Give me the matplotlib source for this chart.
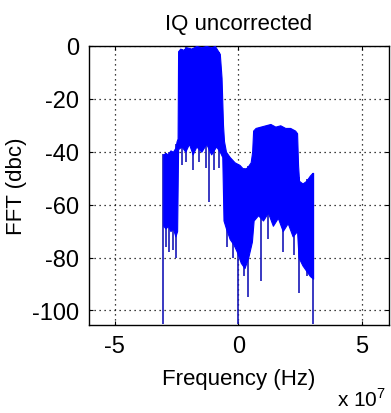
import numpy as np
import matplotlib
matplotlib.use('Agg')
import matplotlib.pyplot as plt

plt.rcParams['font.family'] = ['Liberation Sans', 'DejaVu Sans']
plt.rcParams['mathtext.fontset'] = 'custom'
plt.rcParams['mathtext.rm'] = 'Liberation Sans'

# spectrum envelope (freq in units of 1e7 Hz, level in dBc)
upper_freq = [-3.04, -2.95, -2.85, -2.75, -2.65, -2.55, -2.5, -2.46,
              -2.44, -2.35, -2.25, -2.1, -1.9, -1.7, -1.5, -1.3, -1.1, -0.95,
              -0.85, -0.75, -0.68, -0.62, -0.58, -0.5, -0.35, -0.15, 0.05, 0.2,
              0.35, 0.5, 0.56, 0.6, 0.7, 0.9, 1.1, 1.3, 1.5, 1.7, 1.9, 2.1, 2.3,
              2.38, 2.42, 2.46, 2.6, 2.75, 2.9, 3.0, 3.03]
upper_db = [-41, -40.5, -41, -39.5, -40, -38.5, -36, -35,
            -2, -1, -1.5, -0.5, -1, 0, -0.5, 0, -0.5, 0,
            -1.5, -3, -12, -30, -36, -40, -42, -44, -45, -46.5,
            -46, -44, -40, -32, -31, -30.5, -30, -29.5, -30.5, -30, -31, -31, -32,
            -33, -45, -51, -52, -51, -49, -48, -48]

lower_freq = [-3.04, -2.95, -2.85, -2.75, -2.65, -2.55, -2.48,
              -2.44, -2.3, -2.15, -2.0, -1.85, -1.7, -1.5, -1.3, -1.1, -0.9, -0.75,
              -0.65, -0.6, -0.5, -0.35, -0.2, -0.05, 0.1, 0.25, 0.4, 0.55, 0.62,
              0.8, 1.0, 1.2, 1.4, 1.6, 1.8, 2.0, 2.2, 2.38, 2.44, 2.6, 2.75, 2.9, 3.03]
lower_db = [-68, -69, -68, -70, -69, -72, -70,
            -39, -38, -40, -37, -41, -38, -40, -37, -41, -38, -40,
            -42, -66, -69, -73, -75, -78, -82, -84, -80, -74, -66,
            -64, -66, -63, -68, -65, -70, -67, -72, -70, -80, -83, -85, -87, -88]

# deep nulls below the band
spike_freq = [-3.04, -2.95, -2.8, -2.65, -2.52, -2.3, -2.1, -1.85, -1.6, -1.3, -1.2,
              -1.0, -0.8, -0.45, -0.2, 0.0, 0.25, 0.4, 0.9, 1.2, 1.8, 2.25, 2.45, 2.8, 3.03]
spike_db = [-105, -76, -78, -77, -80, -45, -44, -47, -44, -46, -59,
            -47, -46, -76, -80, -105, -87, -95, -89, -73, -78, -79, -93.5, -87, -105]

scale = 1e7
fig = plt.figure(figsize=(3.91, 4.14), dpi=100)
ax = fig.add_axes([0.2276, 0.2126, 0.767, 0.674])

grid_f = np.union1d(upper_freq, lower_freq)
top = np.interp(grid_f, upper_freq, upper_db)
bot = np.interp(grid_f, lower_freq, lower_db)

spike_top = np.interp(spike_freq, upper_freq, upper_db)
ax.vlines(np.array(spike_freq) * scale, spike_db, spike_top, color='#1818b8', lw=1.2, zorder=2)
ax.fill_between(grid_f * scale, bot, top, color='#0000ff', lw=0.8, edgecolor='#0000ff', zorder=3)

ax.set_xlim(-6.05e7, 6.1e7)
ax.set_ylim(-105.5, 0)
ax.set_xticks([-5e7, 0, 5e7])
ax.set_xticklabels(['-5', '0', '5'])
ax.set_yticks([-100, -80, -60, -40, -20, 0])
ax.set_yticklabels(['-100', '-80', '-60', '-40', '-20', '0'])
ax.tick_params(direction='in', length=3, width=0.8, labelsize=17, top=True, right=True, pad=7)
ax.grid(True, color='black', linestyle=(0, (1, 3)), linewidth=0.9)
for s in ax.spines.values():
    s.set_linewidth(1.0)

ax.set_title('IQ uncorrected', fontsize=16, pad=12)
ax.set_xlabel('Frequency (Hz)', fontsize=16, labelpad=8)
ax.set_ylabel('FFT (dbc)', fontsize=16, labelpad=4)
fig.text(0.862, 0.008, r'x 10$^{7}$', fontsize=15, ha='left', va='bottom')

plt.savefig('out.png', dpi=100)
